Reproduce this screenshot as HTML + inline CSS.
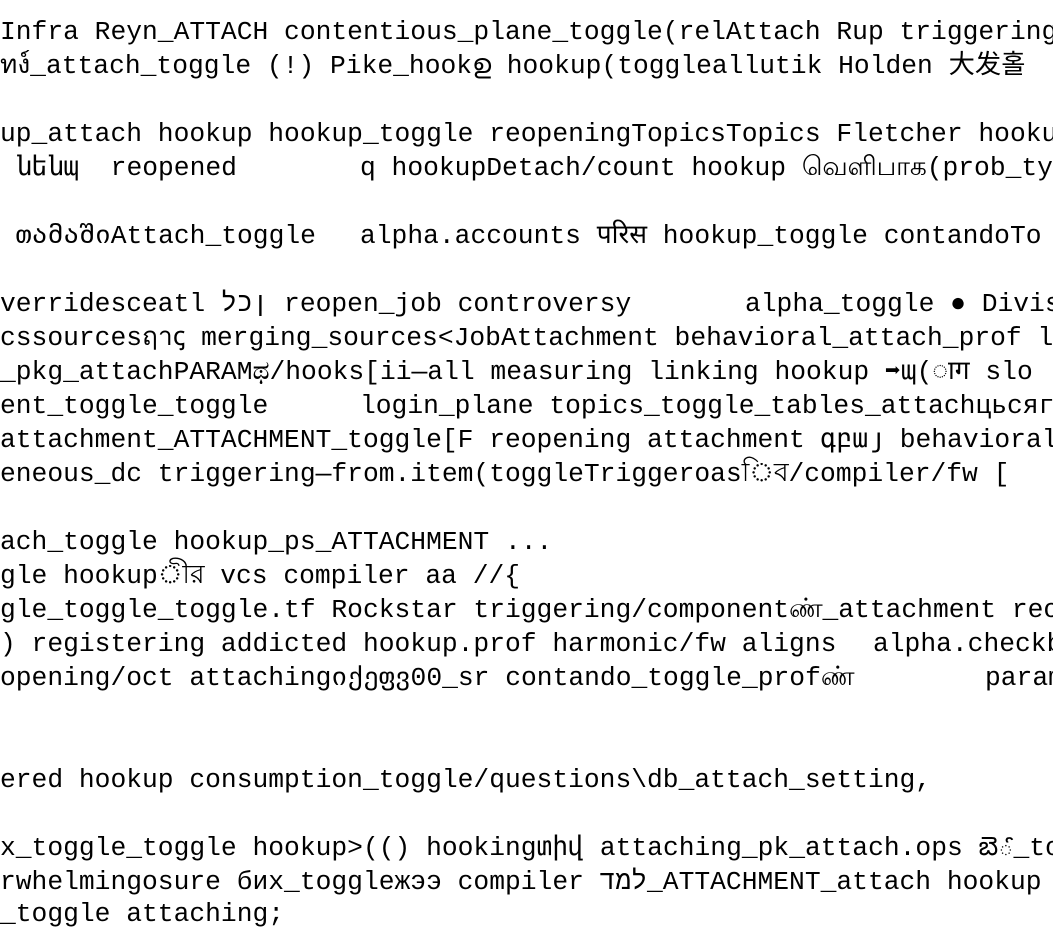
<!DOCTYPE html>
<html><head><meta charset="utf-8">
<style>
html,body{margin:0;padding:0;background:#fff;width:1053px;height:922px;overflow:hidden;}
.l{position:absolute;left:0;height:34px;line-height:34px;white-space:pre;font-family:"Liberation Mono","DejaVu Sans Mono","Noto Sans CJK SC",monospace;font-size:26.3px;color:#000;}
.s{position:absolute;white-space:pre;}
</style></head><body>
<div class="l" style="top:15px">Infra Reyn_ATTACH contentious_plane_toggle(relAttach Rup triggering</div>
<div class="l" style="top:49px">ทง์_attach_toggle (!) Pike_hookഉ hookup(toggleallutik Holden 大发홀</div>
<div class="l" style="top:117px">up_attach hookup hookup_toggle reopeningTopicsTopics Fletcher hooku</div>
<div class="l" style="top:151px"> նենպ  reopened<span class="s" style="left:360px">q hookupDetach/count hookup வெளிபாக(prob_type</span></div>
<div class="l" style="top:219px"> თამაშიAttach_toggle<span class="s" style="left:360px">alpha.accounts परिस hookup_toggle contandoTo</span></div>
<div class="l" style="top:287px">verridesceatl ןכל reopen_job controversy<span class="s" style="left:745px">alpha_toggle ● Divis</span></div>
<div class="l" style="top:321px">cssourcesฤาꞔ merging_sources&lt;JobAttachment behavioral_attach_prof l</div>
<div class="l" style="top:355px">_pkg_attachPARAMಥ/hooks[ii—all measuring linking hookup ➡պ(ाग slo</div>
<div class="l" style="top:389px">ent_toggle_toggle<span class="s" style="left:360px">login_plane topics_toggle_tables_attachцьсяг</span></div>
<div class="l" style="top:423px">attachment_ATTACHMENT_toggle[F reopening attachment գբայ behavioral</div>
<div class="l" style="top:457px">eneous_dc triggering—from.item(toggleTriggeroasিব/compiler/fw [</div>
<div class="l" style="top:525px">ach_toggle hookup_ps_ATTACHMENT ...</div>
<div class="l" style="top:559px">gle hookupীর vcs compiler aa //{</div>
<div class="l" style="top:593px">gle_toggle_toggle.tf Rockstar triggering/componentண்_attachment reo</div>
<div class="l" style="top:627px">) registering addicted hookup.prof harmonic/fw aligns<span class="s" style="left:873px">alpha.checkb</span></div>
<div class="l" style="top:661px">opening/oct attachingიქეფვ00_sr contando_toggle_profண்<span class="s" style="left:985px">param</span></div>
<div class="l" style="top:763px">ered hookup consumption_toggle/questions\db_attach_setting,</div>
<div class="l" style="top:831px">x_toggle_toggle hookup&gt;(() hookingտիվ attaching_pk_attach.ops బెౕ_to</div>
<div class="l" style="top:865px">rwhelmingosure бих_toggleжээ compiler למד_ATTACHMENT_attach hookup</div>
<div class="l" style="top:897px">_toggle attaching;</div>
</body></html>
